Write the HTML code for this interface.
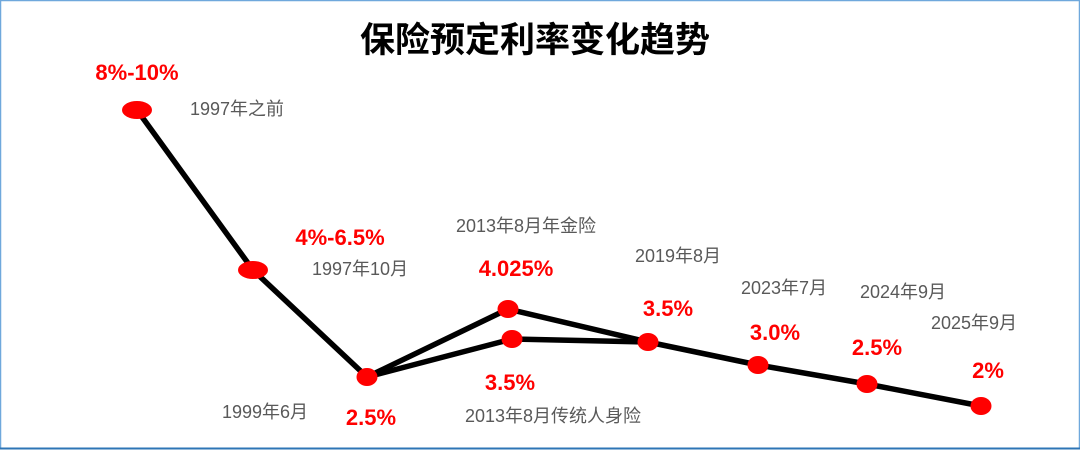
<!DOCTYPE html>
<html><head><meta charset="utf-8"><style>
html,body{margin:0;padding:0;background:#fff}
svg{display:block}
.r{fill:#ff0000;font-family:"Liberation Sans","Noto Sans CJK SC",sans-serif;font-weight:bold;font-size:22px;text-anchor:middle}
.g{fill:#595959;font-family:"Liberation Sans","Noto Sans CJK SC",sans-serif;font-size:18px}
</style></head><body>
<svg width="1080" height="450" viewBox="0 0 1080 450">
<rect x="0.5" y="0.5" width="1079" height="448" fill="#fff" stroke="#6fa8dc" stroke-width="1.5"/>
<line x1="0" y1="448.5" x2="1080" y2="448.5" stroke="#2e75b6" stroke-width="2"/>
<text x="535" y="52" text-anchor="middle" style="font-family:'Liberation Sans','Noto Sans CJK SC',sans-serif;font-weight:bold;font-size:35px;fill:#000">保险预定利率变化趋势</text>
<g fill="none" stroke="#000" stroke-width="5.5" stroke-linejoin="round">
<polyline points="137,110 253,270 367,377 508,309 648,342 758,365 867,384 981,406"/>
<polyline points="367,377 512,339 648,342"/>
</g>
<g fill="#ff0000">
<ellipse cx="137" cy="110" rx="15" ry="9"/>
<ellipse cx="253" cy="270" rx="15" ry="9"/>
<ellipse cx="367" cy="377" rx="10.5" ry="9"/>
<ellipse cx="508" cy="309" rx="10.5" ry="9"/>
<ellipse cx="512" cy="339" rx="10.5" ry="9"/>
<ellipse cx="648" cy="342" rx="10.5" ry="9"/>
<ellipse cx="758" cy="365" rx="10.5" ry="9"/>
<ellipse cx="867" cy="384" rx="10.5" ry="9"/>
<ellipse cx="981" cy="406" rx="10.5" ry="9"/>
</g>
<text class="r" x="137" y="80">8%-10%</text>
<text class="r" x="340" y="245">4%-6.5%</text>
<text class="r" x="516" y="276">4.025%</text>
<text class="r" x="668" y="316">3.5%</text>
<text class="r" x="775" y="340">3.0%</text>
<text class="r" x="877" y="355">2.5%</text>
<text class="r" x="988" y="378">2%</text>
<text class="r" x="371" y="425">2.5%</text>
<text class="r" x="510" y="390">3.5%</text>
<text class="g" x="190" y="115">1997年之前</text>
<text class="g" x="312" y="275">1997年10月</text>
<text class="g" x="222" y="418">1999年6月</text>
<text class="g" x="456" y="232">2013年8月年金险</text>
<text class="g" x="635" y="262">2019年8月</text>
<text class="g" x="741" y="294">2023年7月</text>
<text class="g" x="860" y="298">2024年9月</text>
<text class="g" x="931" y="329">2025年9月</text>
<text class="g" x="465" y="422">2013年8月传统人身险</text>
</svg>
</body></html>
